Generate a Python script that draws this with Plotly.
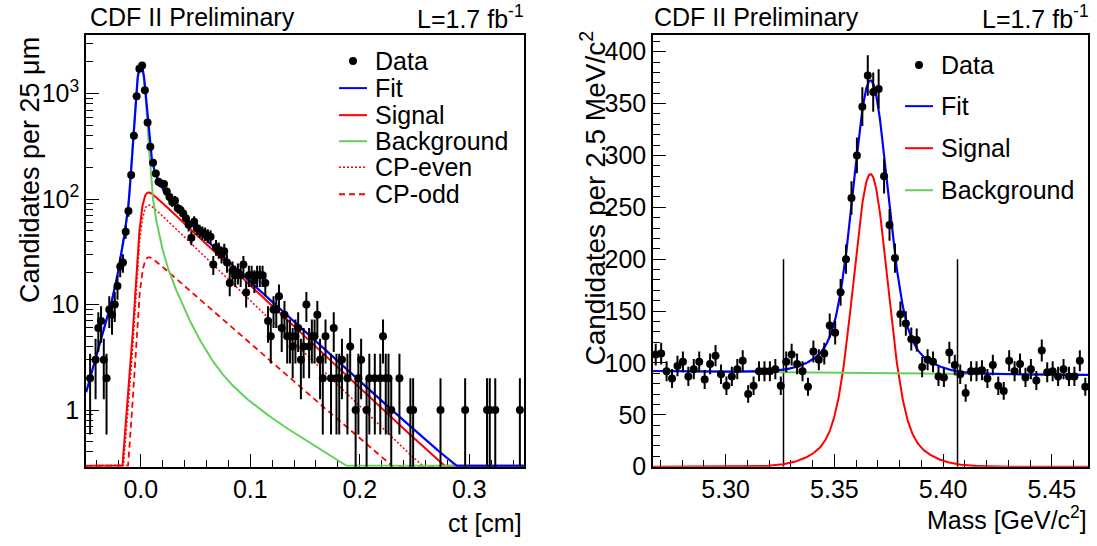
import numpy as np
import plotly.graph_objects as go

# ---------------- data ----------------
# proper decay length histogram: 160 bins of 25 um from -0.05 to 0.35 cm
ct_range = [-0.05, 0.35]
ct_bin_width = 0.0025
ct_counts = [
    0, 2, 0, 3, 6, 7, 3, 2, 9, 8, 10, 15, 23, 25, 49, 77, 169, 398, 944, 1725,
    1852, 1075, 532, 313, 221, 175, 146, 141, 139, 118, 105, 94, 97, 82, 79, 73, 66, 57, 43, 61,
    53, 50, 48, 47, 45, 44, 24, 35, 33, 30, 32, 25, 16, 21, 19, 20, 19, 24, 13, 19,
    19, 17, 19, 19, 19, 16, 7, 5, 9, 9, 12, 6, 8, 5, 5, 4, 5, 6, 3, 4,
    10, 4, 5, 5, 8, 3, 2, 5, 0, 2, 6, 2, 2, 3, 0, 2, 4, 0, 1, 2,
    3, 0, 1, 2, 0, 2, 0, 2, 5, 2, 2, 1, 0, 0, 2, 0, 0, 0, 1, 1,
    0, 0, 0, 0, 0, 0, 0, 0, 0, 1, 0, 0, 0, 0, 0, 0, 0, 0, 1, 0,
    0, 0, 0, 0, 0, 0, 1, 1, 0, 1, 0, 0, 0, 0, 0, 0, 0, 0, 1, 0,
]

# mass histogram: 80 bins of 2.5 MeV
mass_range = [5.2666, 5.4666]
mass_bin_width = 0.0025
mass_counts = [
    108, 109, 92, 85, 97, 101, 87, 94, 101, 84,
    99, 107, 89, 78, 87, 94, 102, 70, 78, 92,
    92, 92, 94, 78, 101, 108, 99, 92, 77, 111,
    103, 109, 136, 129, 168, 200, 259, 300, 347, 377,
    361, 364, 280, 233, 201, 147, 138, 123, 122, 96,
    103, 101, 87, 86, 110, 98, 89, 71, 92, 92,
    93, 85, 98, 78, 73, 102, 92, 99, 86, 94,
    83, 112, 91, 92, 87, 94, 87, 87, 102, 77,
]

# lifetime fit parameters (amplitudes in candidates / bin, lengths in cm)
res_fractions = [0.88, 0.12]
res_sigmas = [0.0036, 0.0080]
prompt_peak = 1760.0
neg_tail = [88.0, 0.012]
bkg_short = [95.0, 0.0145]
bkg_long = [5.0, 0.066]
cp_even = [109.0, 0.0434]
cp_odd = [34.4, 0.048]

# mass fit parameters
mass_mean = 5.3666
sig_core = [238.0, 0.0076]
sig_wide = [44.0, 0.0165]
bkg_line = [92.2, 88.4]          # background at left / right edge of range
window_edges = [5.3266, 5.4066]
window_height = 200

# ---------------- style ----------------
FONT = "Liberation Sans, Arial, Helvetica, sans-serif"
BLUE = "rgb(0,0,255)"
RED = "rgb(255,0,0)"
GREEN = "rgb(100,208,90)"
W, H = 1097, 546
FS = 25
YS = 0.973   # vertical scale observed between page layout and final picture

def px(x):
    return x / W

def py(y):
    return 1 - (y / YS) / H

# ---------------- lifetime curves ----------------
xg = np.linspace(-0.20, 0.50, 7001)
kx = np.linspace(-0.06, 0.06, 1201)

def kern(x):
    return sum(f / s * np.exp(-0.5 * (x / s) ** 2) for f, s in zip(res_fractions, res_sigmas))

k = kern(kx)
k = k / k.sum()

def smear(f):
    return np.convolve(f, k, mode="same")

pos = xg >= 0
def pos_exp(a, lam):
    return smear(np.where(pos, a * np.exp(-np.clip(xg, 0, None) / lam), 0.0))

prompt = prompt_peak * kern(xg) / kern(0.0)
negt = smear(np.where(~pos, neg_tail[0] * np.exp(np.clip(xg, None, 0) / neg_tail[1]), 0.0))
bkg = prompt + negt + pos_exp(*bkg_short) + pos_exp(*bkg_long)
even = pos_exp(*cp_even)
odd = pos_exp(*cp_odd)
sig = even + odd
fit = bkg + sig

ylog_range = [-0.537, 3.556]
floor = 10 ** (ylog_range[0] + 0.008)
sel = (xg >= ct_range[0]) & (xg <= ct_range[1])
xc = xg[sel]

def clip(v):
    return np.maximum(v[sel], floor)

ct_centers = ct_range[0] + ct_bin_width * (np.arange(len(ct_counts)) + 0.5)
cnt = np.array(ct_counts, dtype=float)
nz = cnt > 0

# ---------------- mass curves ----------------
mg = np.linspace(mass_range[0], mass_range[1], 801)
m_sig = sig_core[0] * np.exp(-0.5 * ((mg - mass_mean) / sig_core[1]) ** 2) + \
        sig_wide[0] * np.exp(-0.5 * ((mg - mass_mean) / sig_wide[1]) ** 2)
m_bkg = bkg_line[0] + (bkg_line[1] - bkg_line[0]) * (mg - mass_range[0]) / (mass_range[1] - mass_range[0])
m_fit = m_sig + m_bkg
mass_centers = mass_range[0] + mass_bin_width * (np.arange(len(mass_counts)) + 0.5)
mc = np.array(mass_counts, dtype=float)

fig = go.Figure()

# left panel
fig.add_trace(go.Scatter(x=xc, y=clip(even), mode="lines", line=dict(color=RED, width=1.5, dash="2px,2px"),
                         xaxis="x", yaxis="y", showlegend=False, hoverinfo="skip"))
fig.add_trace(go.Scatter(x=xc, y=clip(odd), mode="lines", line=dict(color=RED, width=1.8, dash="6px,4px"),
                         xaxis="x", yaxis="y", showlegend=False, hoverinfo="skip"))
fig.add_trace(go.Scatter(x=xc, y=clip(sig), mode="lines", line=dict(color=RED, width=2),
                         xaxis="x", yaxis="y", showlegend=False, hoverinfo="skip"))
fig.add_trace(go.Scatter(x=xc, y=clip(bkg), mode="lines", line=dict(color=GREEN, width=2),
                         xaxis="x", yaxis="y", showlegend=False, hoverinfo="skip"))
fig.add_trace(go.Scatter(x=xc, y=clip(fit), mode="lines", line=dict(color=BLUE, width=2.2),
                         xaxis="x", yaxis="y", showlegend=False, hoverinfo="skip"))
err = np.sqrt(cnt[nz])
fig.add_trace(go.Scatter(
    x=ct_centers[nz], y=cnt[nz], mode="markers",
    marker=dict(color="black", size=8),
    error_y=dict(type="data", array=err, arrayminus=np.minimum(err, cnt[nz] * 0.999),
                 thickness=2, width=0, color="black"),
    xaxis="x", yaxis="y", showlegend=False, cliponaxis=True))

# right panel
for xe in window_edges:
    fig.add_trace(go.Scatter(x=[xe, xe], y=[0, window_height], mode="lines",
                             line=dict(color="black", width=1.5), xaxis="x2", yaxis="y2",
                             showlegend=False, hoverinfo="skip"))
fig.add_trace(go.Scatter(x=mg, y=m_sig, mode="lines", line=dict(color=RED, width=2),
                         xaxis="x2", yaxis="y2", showlegend=False, hoverinfo="skip"))
fig.add_trace(go.Scatter(x=mg, y=m_bkg, mode="lines", line=dict(color=GREEN, width=2),
                         xaxis="x2", yaxis="y2", showlegend=False, hoverinfo="skip"))
fig.add_trace(go.Scatter(x=mg, y=m_fit, mode="lines", line=dict(color=BLUE, width=2.2),
                         xaxis="x2", yaxis="y2", showlegend=False, hoverinfo="skip"))
fig.add_trace(go.Scatter(
    x=mass_centers, y=mc, mode="markers", marker=dict(color="black", size=8),
    error_y=dict(type="data", array=np.sqrt(mc), thickness=2, width=0, color="black"),
    xaxis="x2", yaxis="y2", showlegend=False))

# ---------------- axes ----------------
axis_common = dict(showline=True, linecolor="black", linewidth=1.5, mirror=True, showgrid=False,
                   zeroline=False, ticks="inside", ticklen=13, tickwidth=1.2, tickcolor="black",
                   tickfont=dict(family=FONT, size=FS, color="black"), layer="below traces")
minor_common = dict(ticks="inside", ticklen=7, tickwidth=1.2, tickcolor="black", showgrid=False)

ct_major = [0.0, 0.1, 0.2, 0.3]
ct_minor = [round(-0.04 + 0.02 * i, 2) for i in range(20)]
dec_major = [1, 10, 100, 1000]
dec_minor = [m * 10 ** e for e in range(-1, 4) for m in range(2, 10)]
m_major = [5.30, 5.35, 5.40, 5.45]
m_minor = [round(5.27 + 0.01 * i, 2) for i in range(20)]
y2_major = list(range(0, 401, 50))
y2_minor = list(range(0, 411, 10))

fig.update_layout(
    width=W, height=H, margin=dict(l=0, r=0, t=0, b=0), autosize=False,
    paper_bgcolor="white", plot_bgcolor="white", showlegend=False,
    xaxis=dict(domain=[px(86), px(524)], range=ct_range, anchor="y",
               tickmode="array", tickvals=ct_major, ticktext=["0.0", "0.1", "0.2", "0.3"],
               minor=dict(tickmode="array", tickvals=ct_minor, **minor_common), **axis_common),
    yaxis=dict(domain=[py(466), py(35)], type="log", range=ylog_range, anchor="x",
               tickmode="array", tickvals=dec_major, ticktext=["1", "10", "10<sup>2</sup>", "10<sup>3</sup>"],
               minor=dict(tickmode="array", tickvals=dec_minor, **minor_common), **axis_common),
    xaxis2=dict(domain=[px(653), px(1088)], range=mass_range, anchor="y2",
                tickmode="array", tickvals=m_major, ticktext=["5.30", "5.35", "5.40", "5.45"],
                minor=dict(tickmode="array", tickvals=m_minor, **minor_common), **axis_common),
    yaxis2=dict(domain=[py(466), py(35)], range=[0, 416], anchor="x2",
                tickmode="array", tickvals=y2_major, ticktext=[str(v) for v in y2_major],
                minor=dict(tickmode="array", tickvals=y2_minor, **minor_common), **axis_common),
)

# ---------------- text ----------------
ann = []
def text(t, x, y, xa="left", ya="middle", angle=0, size=FS):
    ann.append(dict(text=t, x=px(x), y=py(y), xref="paper", yref="paper", xanchor=xa, yanchor=ya,
                    showarrow=False, textangle=angle, font=dict(family=FONT, size=size, color="black")))

text("CDF II Preliminary", 88, 17)
text("L=1.7 fb<sup>-1</sup>", 526, 17, xa="right")
text("CDF II Preliminary", 652, 17)
text("L=1.7 fb<sup>-1</sup>", 1091, 17, xa="right")
text("ct [cm]", 524, 522, xa="right")
text("Mass [GeV/c<sup>2</sup>]", 1089, 517, xa="right")
text("Candidates per 25 μm", 30, 35, xa="center", ya="top", angle=-90, size=27)
text("Candidates per 2.5 MeV/c<sup>2</sup>", 593, 29, xa="center", ya="top", angle=-90, size=28)

shapes = []
def leg_line(x0, x1, y, color, dash="solid", width=2):
    shapes.append(dict(type="line", xref="paper", yref="paper", x0=px(x0), x1=px(x1), y0=py(y), y1=py(y),
                       line=dict(color=color, width=width, dash=dash)))

def leg_dot(x, y):
    shapes.append(dict(type="circle", xref="paper", yref="paper", xsizemode="pixel", ysizemode="pixel",
                       xanchor=px(x), yanchor=py(y), x0=-4, x1=4, y0=-4, y1=4,
                       fillcolor="black", line=dict(color="black", width=0)))

# left legend
left_rows = [61, 88, 115, 141, 167, 194]
left_labels = ["Data", "Fit", "Signal", "Background", "CP-even", "CP-odd"]
leg_dot(353, left_rows[0])
leg_line(339, 367, left_rows[1], BLUE)
leg_line(339, 367, left_rows[2], RED)
leg_line(339, 367, left_rows[3], GREEN)
leg_line(339, 367, left_rows[4], RED, "2px,2px", 1.5)
leg_line(339, 367, left_rows[5], RED, "6px,4px", 1.8)
for yy, lab in zip(left_rows, left_labels):
    text(lab, 373, yy)

# right legend
right_rows = [65, 106, 148, 190]
right_labels = ["Data", "Fit", "Signal", "Background"]
leg_dot(919, right_rows[0])
leg_line(905, 933, right_rows[1], BLUE)
leg_line(905, 933, right_rows[2], RED)
leg_line(905, 933, right_rows[3], GREEN)
for yy, lab in zip(right_rows, right_labels):
    text(lab, 939, yy)

fig.update_layout(annotations=ann, shapes=shapes)
fig.write_html("out.html", config={"responsive": False})
